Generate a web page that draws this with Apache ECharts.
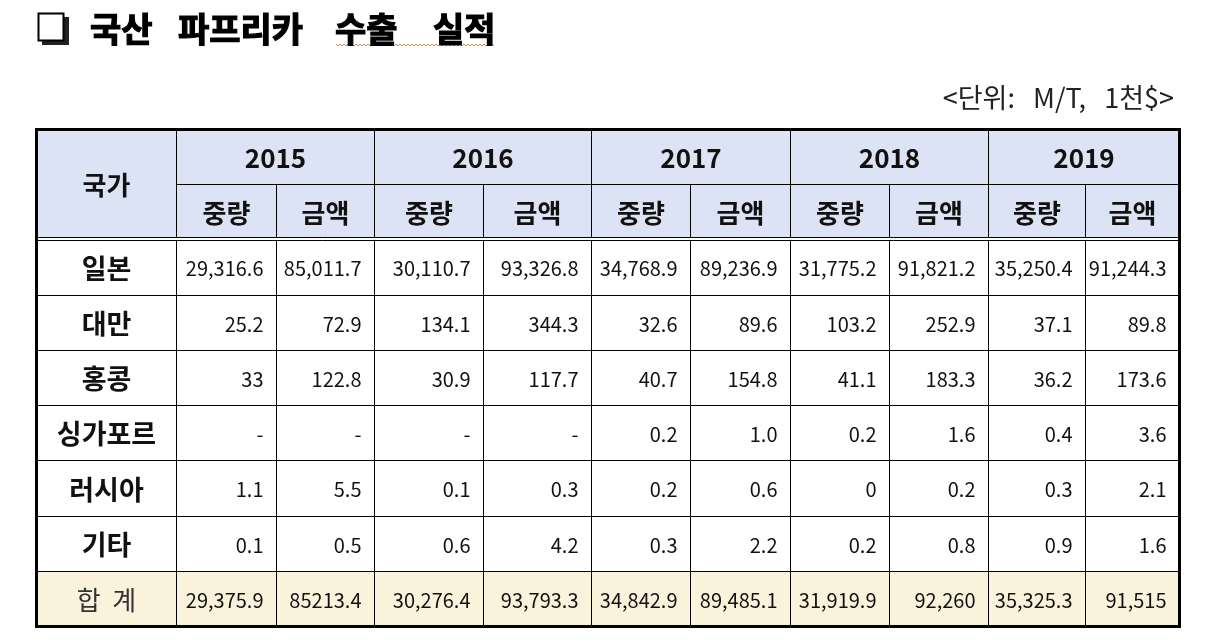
<!DOCTYPE html>
<html>
<head>
<meta charset="utf-8">
<script src="https://cdn.jsdelivr.net/npm/echarts@6/dist/echarts.min.js"></script>
<style>
    html, body { margin: 0; padding: 0; background: #fff; }
    #chart { width: 1227px; height: 643px; }
</style>
</head>
<body>
<div id="chart"></div>
<script>
    const years = ['2015', '2016', '2017', '2018', '2019']
    const subHeads = ['중량', '금액']
    const countries = ['일본', '대만', '홍콩', '싱가포르', '러시아', '기타']
    // 국가별 값 (연도마다 중량, 금액 순)
    const japan = ['29,316.6', '85,011.7', '30,110.7', '93,326.8', '34,768.9', '89,236.9', '31,775.2', '91,821.2', '35,250.4', '91,244.3']
    const taiwan = ['25.2', '72.9', '134.1', '344.3', '32.6', '89.6', '103.2', '252.9', '37.1', '89.8']
    const hongkong = ['33', '122.8', '30.9', '117.7', '40.7', '154.8', '41.1', '183.3', '36.2', '173.6']
    const singapore = ['-', '-', '-', '-', '0.2', '1.0', '0.2', '1.6', '0.4', '3.6']
    const russia = ['1.1', '5.5', '0.1', '0.3', '0.2', '0.6', '0', '0.2', '0.3', '2.1']
    const others = ['0.1', '0.5', '0.6', '4.2', '0.3', '2.2', '0.2', '0.8', '0.9', '1.6']
    const totalLabel = '합  계'
    const totals = ['29,375.9', '85213.4', '30,276.4', '93,793.3', '34,842.9', '89,485.1', '31,919.9', '92,260', '35,325.3', '91,515']

    const rows = [japan, taiwan, hongkong, singapore, russia, others]

    // 열 너비 (축 단위)
    const colWidths = [139.5, 100.5, 98, 109, 108, 99, 100, 99, 99, 97, 94]
    const colEdges = [0]
    colWidths.forEach(w => colEdges.push(colEdges[colEdges.length - 1] + w))
    const tableW = colEdges[colEdges.length - 1]
    const rowCount = 2 + rows.length + 1

    const FONT = '"Noto Sans CJK KR", "Noto Sans", sans-serif'
    const HEAD_BG = '#dce3f4'
    const TOTAL_BG = '#fbf2dc'

    // [x0, y0, x1, y1, text, kind]
    let cells = []
    cells.push([0, 0, colEdges[1], 2, '국가', 'head'])
    years.forEach((y, i) => {
        cells.push([colEdges[1 + i * 2], 0, colEdges[3 + i * 2], 1, y, 'head'])
        subHeads.forEach((s, j) => {
            cells.push([colEdges[1 + i * 2 + j], 1, colEdges[2 + i * 2 + j], 2, s, 'head'])
        })
    })
    rows.forEach((r, ri) => {
        cells.push([0, 2 + ri, colEdges[1], 3 + ri, countries[ri], 'name'])
        r.forEach((v, ci) => {
            cells.push([colEdges[1 + ci], 2 + ri, colEdges[2 + ci], 3 + ri, v, 'num'])
        })
    })
    cells.push([0, rowCount - 1, colEdges[1], rowCount, totalLabel, 'totalName'])
    totals.forEach((v, ci) => {
        cells.push([colEdges[1 + ci], rowCount - 1, colEdges[2 + ci], rowCount, v, 'total'])
    })
    cells.push([0, 2, tableW, 2, '', 'double'])
    cells.push([0, 0, tableW, rowCount, '', 'frame'])

    function renderCell(params, api) {
        const p0 = api.coord([api.value(0), api.value(1)])
        const p1 = api.coord([api.value(2), api.value(3)])
        const kind = cells[params.dataIndex][5]
        const text = cells[params.dataIndex][4]
        const x0 = Math.round(p0[0]) + 0.5, y0 = Math.round(p0[1]) + 0.5
        const x1 = Math.round(p1[0]) + 0.5, y1 = Math.round(p1[1]) + 0.5

        if (kind === 'frame') {
            return {
                type: 'rect',
                shape: { x: x0, y: y0, width: x1 - x0, height: y1 - y0 },
                style: { fill: 'none', stroke: '#000', lineWidth: 3 }
            }
        }
        if (kind === 'double') {
            return {
                type: 'group',
                children: [
                    { type: 'rect', shape: { x: x0, y: y0 - 2, width: x1 - x0, height: 3 }, style: { fill: '#fff' } },
                    { type: 'line', shape: { x1: x0, y1: y0 - 2, x2: x1, y2: y0 - 2 }, style: { stroke: '#000', lineWidth: 1 } },
                    { type: 'line', shape: { x1: x0, y1: y0 + 1, x2: x1, y2: y0 + 1 }, style: { stroke: '#000', lineWidth: 1 } }
                ]
            }
        }

        let bg = '#fff'
        if (kind === 'head') bg = HEAD_BG
        if (kind === 'total' || kind === 'totalName') bg = TOTAL_BG

        const isNum = kind === 'num' || kind === 'total'
        let font = 'bold 26px ' + FONT
        if (kind === 'name') font = 'bold 27px ' + FONT
        if (kind === 'totalName') font = 'normal 26px ' + FONT
        if (isNum) font = 'normal 20px ' + FONT

        return {
            type: 'group',
            children: [
                {
                    type: 'rect',
                    shape: { x: x0, y: y0, width: x1 - x0, height: y1 - y0 },
                    style: { fill: bg, stroke: '#000', lineWidth: 1 }
                },
                {
                    type: 'text',
                    style: {
                        text: text,
                        x: isNum ? x1 - 13 : (x0 + x1) / 2,
                        y: (y0 + y1) / 2 + 1,
                        align: isNum ? 'right' : 'center',
                        verticalAlign: 'middle',
                        font: font,
                        fill: kind === 'totalName' ? '#333' : '#111'
                    }
                }
            ]
        }
    }

    // 물결 밑줄 (맞춤법 표시)
    function wavy(x0, x1, y) {
        let pts = []
        for (let x = x0, k = 0; x <= x1; x += 2, k++) pts.push([x, y + (k % 2 ? 1 : -1)])
        return {
            type: 'polyline',
            shape: { points: pts },
            style: { stroke: '#c98a4a', lineWidth: 1, fill: 'none' }
        }
    }

    const titleWord = {
        fontFamily: FONT, fontSize: 34, fontWeight: 'bold', color: '#000',
        textBorderColor: '#000', textBorderWidth: 1.2
    }

    const myChart = echarts.init(document.getElementById('chart'))
    const option = {
        backgroundColor: '#fff',
        animation: false,
        title: [
            {
                text: '{a|국산}{b|파프리카}{c|수출}{d|실적}',
                left: 85,
                top: 7,
                textStyle: {
                    rich: {
                        a: Object.assign({ width: 88 }, titleWord),
                        b: Object.assign({ width: 157 }, titleWord),
                        c: Object.assign({ width: 98 }, titleWord),
                        d: titleWord
                    }
                }
            },
            {
                text: '<단위:   M/T,   1천$>',
                right: 48,
                top: 79,
                textStyle: { fontFamily: FONT, fontSize: 27, fontWeight: 'normal', color: '#222' }
            }
        ],
        graphic: [
            { type: 'rect', shape: { x: 42, y: 17, width: 27, height: 28 }, style: { fill: '#222' } },
            { type: 'rect', shape: { x: 38.5, y: 13.5, width: 25, height: 27 }, style: { fill: '#fff', stroke: '#000', lineWidth: 2 } },
            wavy(336, 494, 45),
            wavy(70, 141, 619)
        ],
        grid: { left: 36, right: 1227 - 36 - tableW, top: 129, bottom: 17 },
        xAxis: { type: 'value', min: 0, max: tableW, show: false },
        yAxis: { type: 'value', min: 0, max: rowCount, inverse: true, show: false },
        series: [
            {
                type: 'custom',
                renderItem: renderCell,
                clip: false,
                silent: true,
                encode: { x: [0, 2], y: [1, 3] },
                data: cells
            }
        ]
    }
    myChart.setOption(option)
</script>
</body>
</html>
